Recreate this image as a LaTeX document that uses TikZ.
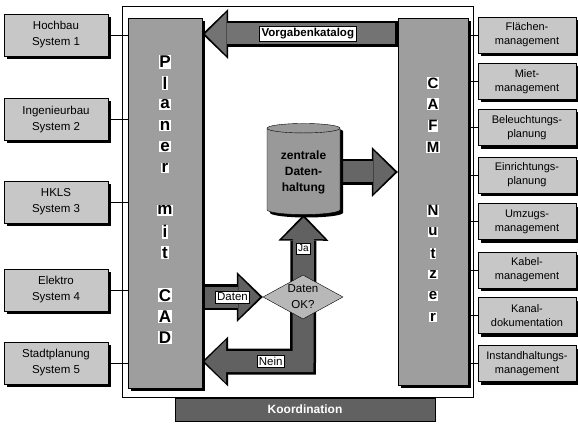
\documentclass[tikz,border=0pt]{standalone}
\usepackage{fontspec}
\setmainfont{Liberation Sans}
\usetikzlibrary{shapes.geometric,arrows.meta,shadows,backgrounds}

\begin{document}
\begin{tikzpicture}[
  x=1pt, y=-1pt,
  every node/.style={inner sep=1pt},
  shade3/.style={drop shadow={shadow xshift=3pt, shadow yshift=-3pt, fill=black, opacity=1}},
  sysbox/.style={draw, fill=black!22, minimum width=104pt, minimum height=42pt, align=center, font=\fontsize{11.5}{16}\selectfont, shade3},
  cafmbox/.style={draw, fill=black!22, minimum width=98pt, minimum height=36pt, align=center, font=\fontsize{11}{14}\selectfont, shade3},
  panel/.style={draw, fill=black!38, shade3},
  pletter/.style={fill=white, inner sep=0.8pt, font=\fontsize{17}{17}\selectfont\bfseries},
  cletter/.style={fill=white, inner sep=0.8pt, font=\fontsize{15}{15}\selectfont\bfseries},
  store/.style={cylinder, shape border rotate=90, aspect=0.2, draw, fill=black!40, minimum width=73pt, minimum height=91pt, align=center, font=\fontsize{12}{16}\selectfont\bfseries, shade3},
  check/.style={diamond, draw, fill=black!28, minimum width=80pt, minimum height=44pt, inner sep=0pt},
  lbl/.style={draw=black, line width=0.8pt, fill=white, inner sep=2pt, font=\fontsize{11.5}{12}\selectfont},
  bigout/.tip={Triangle[length=26pt, width=50pt, line width=0pt]},
  bigin/.tip={Triangle[length=21.5pt, width=43pt, line width=0pt]},
  arrout/.style={draw=black, line width=26pt, line join=miter},
  arrin/.style={draw=#1, line width=21pt, line join=miter, shorten >=3pt, shorten <=2.5pt},
]
  \useasboundingbox (0,0) rectangle (578,425);

  \draw[line width=0.9pt] (122,6) rectangle (473,397);

  \node[panel, minimum width=74pt, minimum height=370pt] (cad) at (165,203) {};
  \node[panel, minimum width=70pt, minimum height=367pt] (cafm) at (433,201.5) {};

  \foreach \ch/\k in {P/0,l/1,a/2,n/3,e/4,r/5,m/7,i/8,t/9,C/11,A/12,D/13}
    \node[pletter] (p\k) at (165,62+21.2*\k) {\ch};
  \foreach \ch/\k in {C/0,A/1,F/2,M/3,N/6,u/7,t/8,z/9,e/10,r/11}
    \node[cletter] (c\k) at (433,83+21.3*\k) {\ch};

  \foreach \sysname/\y [count=\i] in {Hochbau/35, Ingenieurbau/119.5, HKLS/202, Elektro/290, Stadtplanung/363} {
    \node[sysbox] (sys\i) at (56,\y) {\sysname\\System \i};
    \draw (sys\i.east) -- (sys\i.east -| cad.west);
  }

  \foreach \lineA/\lineB/\y [count=\i] in {Flächen-/management/35, Miet-/management/81.5, Beleuchtungs-/planung/127.5, Einrichtungs-/planung/175, Umzugs-/management/221.5, Kabel-/management/270, Kanal-/dokumentation/315.5, Instandhaltungs-/management/363.5} {
    \node[cafmbox] (use\i) at (527,\y) {\lineA\\\lineB};
    \draw (use\i.west -| cafm.east) -- (use\i.west);
  }

  \node[store] (cyl) at (303.5,172) {zentrale\\Daten-\\haltung};
  \node[check] (ok) at (303,297) {};
  \node[align=center, font=\fontsize{11.5}{16}\selectfont] (oktxt) at (ok) {Daten\\OK?};
  \coordinate (bend) at (303,361.5);
  \coordinate (vk) at (300,34);

  \begin{scope}[on background layer]
    \draw[arrout, -bigout] (cafm.west |- vk) -- (cad.east |- vk);
    \draw[arrin=black!55, -bigin] (cafm.west |- vk) -- node[lbl, pos=0.46, font=\fontsize{11.5}{12}\selectfont\bfseries] (vklbl) {Vorgabenkatalog} (cad.east |- vk);
    \draw[arrout, -bigout] (cyl.east) -- (cafm.west |- cyl.east);
    \draw[arrin=black!60, -bigin] (cyl.east) -- (cafm.west |- cyl.east);
    \draw[arrout, -bigout] (cad.east |- ok) -- (ok.west);
    \draw[arrin=black!62, -bigin] (cad.east |- ok) -- node[lbl] (datlbl) {Daten} (ok.west);
    \draw[arrout, bigout-bigout] (cad.east |- bend) -- (bend) -- (cyl.south);
    \draw[arrin=black!62, bigin-bigin] (cad.east |- bend) -- node[lbl, pos=0.68] (neinlbl) {Nein} (bend) -- node[lbl, pos=0.77, font=\fontsize{10}{11}\selectfont] (jalbl) {Ja} (cyl.south);
  \end{scope}

  \node[draw, fill=black!62, minimum width=260pt, minimum height=23pt, text=white, font=\fontsize{12}{14}\selectfont\bfseries] (koord) at (305,409.5) {Koordination};
\end{tikzpicture}
\end{document}
